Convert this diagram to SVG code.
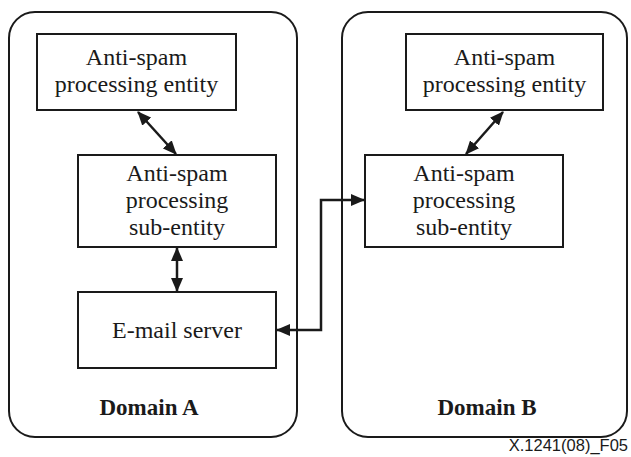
<svg xmlns="http://www.w3.org/2000/svg" width="631" height="457" viewBox="0 0 631 457">
<style>
.dom{fill:#fff;stroke:#1a1a1a;stroke-width:2}
.box{fill:#fff;stroke:#1a1a1a;stroke-width:2}
.t{font-family:"Liberation Serif","Times New Roman",serif;font-size:24px;fill:#1a1a1a;text-anchor:middle}
.b{font-weight:bold;font-size:23px}
.c{fill:none;stroke:#1a1a1a;stroke-width:2.5}
</style>
<defs>
<marker id="ah" markerUnits="userSpaceOnUse" markerWidth="14" markerHeight="12" refX="13" refY="6" orient="auto-start-reverse">
<path d="M0,0 L14,6 L0,12 Z" fill="#1a1a1a"/>
</marker>
</defs>
<g id="domainA">
<rect class="dom" x="9" y="12" width="288" height="425" rx="26"/>
<text class="t b" x="149" y="415">Domain A</text>
</g>
<g id="domainB">
<rect class="dom" x="342" y="12" width="285" height="425" rx="26"/>
<text class="t b" x="487" y="415">Domain B</text>
</g>
<g id="a1">
<rect class="box" x="37" y="34" width="199" height="76"/>
<text class="t" x="136.5" y="65">Anti-spam</text>
<text class="t" x="136.5" y="92">processing entity</text>
</g>
<g id="a2">
<rect class="box" x="78" y="155" width="198" height="92"/>
<text class="t" x="177" y="181">Anti-spam</text>
<text class="t" x="177" y="208">processing</text>
<text class="t" x="177" y="235">sub-entity</text>
</g>
<g id="a3">
<rect class="box" x="78" y="292" width="198" height="76"/>
<text class="t" x="177" y="338">E-mail server</text>
</g>
<g id="b1">
<rect class="box" x="406" y="34" width="197" height="76"/>
<text class="t" x="504.5" y="65">Anti-spam</text>
<text class="t" x="504.5" y="92">processing entity</text>
</g>
<g id="b2">
<rect class="box" x="365" y="155" width="198" height="92"/>
<text class="t" x="464" y="181">Anti-spam</text>
<text class="t" x="464" y="208">processing</text>
<text class="t" x="464" y="235">sub-entity</text>
</g>
<g id="connectors">
<line class="c" x1="138" y1="112" x2="176" y2="154" marker-start="url(#ah)" marker-end="url(#ah)"/>
<line class="c" x1="177" y1="248" x2="177" y2="291" marker-start="url(#ah)" marker-end="url(#ah)"/>
<line class="c" x1="503" y1="112" x2="466" y2="154" marker-start="url(#ah)" marker-end="url(#ah)"/>
<polyline class="c" points="277,330 321,330 321,200 364,200" marker-start="url(#ah)" marker-end="url(#ah)"/>
</g>
<text x="628" y="451" font-family="Liberation Sans, Arial, sans-serif" font-size="16.5" fill="#1a1a1a" text-anchor="end">X.1241(08)_F05</text>
</svg>
